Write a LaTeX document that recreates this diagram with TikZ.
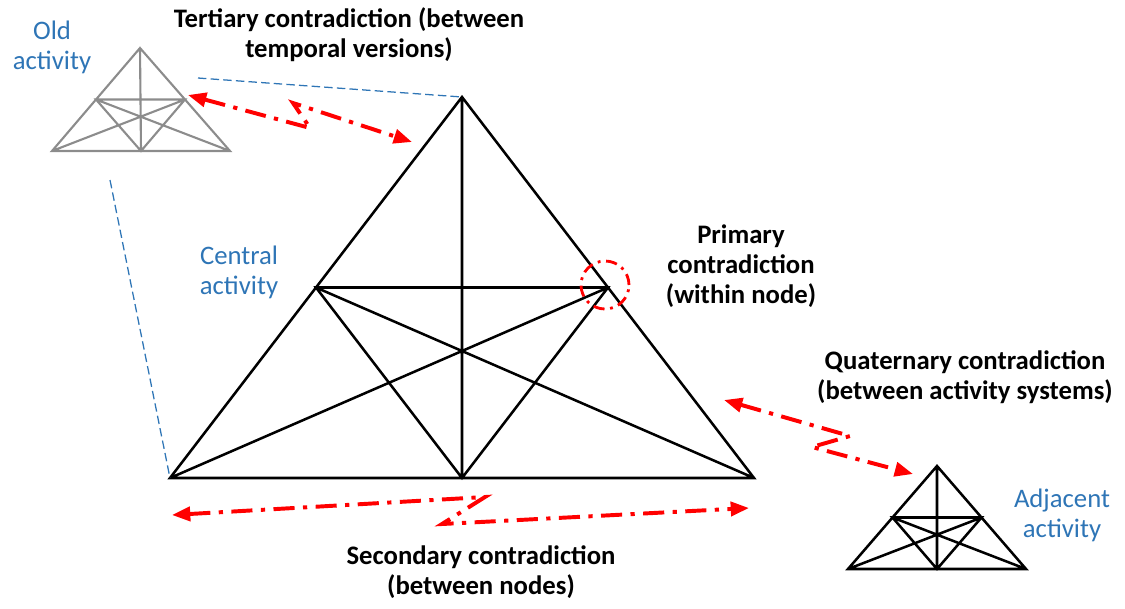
\documentclass[tikz,border=0pt]{standalone}
\usepackage{fontspec}
\setmainfont{Carlito}
\usetikzlibrary{arrows.meta,calc,positioning}
\definecolor{actBlue}{HTML}{2E75B6}
\definecolor{actGrey}{HTML}{8C8C8C}
\newcommand{\labelfont}{\fontsize{19}{21.5}\selectfont}
\tikzset{
    % activity system triangles
    actline/.style={line width=1.8pt,black},
    oldline/.style={line width=1.5pt,actGrey},
    % labels
    actlabel/.style={align=center,text=actBlue,font=\labelfont},
    conlabel/.style={align=center,font=\labelfont\bfseries},
    % contradiction flows
    conflict/.style={{Triangle[length=13pt,width=10pt]}-{Triangle[length=13pt,width=10pt]},line width=2.8pt,red,dash pattern=on 15pt off 6pt on 3pt off 6pt},
    primring/.style={circle,draw=red,line width=2pt,minimum size=1.2cm,dash pattern=on 8pt off 4pt on 2pt off 4pt},
    history/.style={actBlue,line width=0.9pt,dash pattern=on 6pt off 3pt}
}
% activity triangle: prefix, apex, left corner, right corner, style
\newcommand{\actsys}[5]{%
  \coordinate (#1-t) at (#2);
  \coordinate (#1-l) at (#3);
  \coordinate (#1-r) at (#4);
  \coordinate (#1-a) at ($(#1-t)!0.5!(#1-l)$);
  \coordinate (#1-b) at ($(#1-t)!0.5!(#1-r)$);
  \coordinate (#1-c) at ($(#1-l)!0.5!(#1-r)$);
  \draw[#5] (#1-t) -- (#1-l) -- (#1-r) -- cycle
    (#1-a) -- (#1-b) -- (#1-c) -- cycle
    (#1-t) -- (#1-c) (#1-l) -- (#1-b) (#1-r) -- (#1-a);
}
\begin{document}
\begin{tikzpicture}[x=0.025cm,y=-0.025cm]
  \useasboundingbox (0,0) rectangle (1125,608);

  % Activity systems
  \actsys{cen}{462,97}{170,478}{754,478}{actline}
  \actsys{old}{140,48}{52,151}{230,151}{oldline}
  \actsys{adj}{937,466}{848,569}{1026,569}{actline}

  % Labels
  \node[actlabel] (oldtxt) at (52,47) {Old\\activity};
  \node[actlabel] (centxt) at (239,272) {Central\\activity};
  \node[actlabel] (adjtxt) at (1062,515) {Adjacent\\activity};
  \node[conlabel] (tertxt) at (349,35) {Tertiary contradiction (between\\temporal versions)};
  \node[conlabel] (pritxt) at (741,266) {Primary\\contradiction\\(within node)};
  \node[conlabel] (quatxt) at (965,377) {Quaternary contradiction\\(between activity systems)};
  \node[conlabel] (sectxt) at (481,572) {Secondary contradiction\\(between nodes)};

  % Links from old version
  \coordinate (oldup) at (198,78);
  \coordinate (olddown) at (110,180);
  \draw[history] (oldup) -- (cen-t);
  \draw[history] (olddown) -- (cen-l);

  % Primary contradiction
  \node[primring] (ring) at (605,285) {};

  % Tertiary contradiction
  \coordinate (ter1) at (188,95);
  \coordinate (ter2) at (310,128);
  \coordinate (ter3) at (293,103);
  \coordinate (ter4) at (412,142);
  \draw[conflict] (ter1) -- (ter2) -- (ter3) -- (ter4);

  % Secondary contradiction
  \coordinate (sec1) at (172,515);
  \coordinate (sec2) at (485,497);
  \coordinate (sec3) at (442,524);
  \coordinate (sec4) at (749,508);
  \draw[conflict] (sec1) -- (sec2) -- (sec3) -- (sec4);

  % Quaternary contradiction
  \coordinate (qua1) at (724,400);
  \coordinate (qua2) at (850,436);
  \coordinate (qua3) at (812,447);
  \coordinate (qua4) at (913,474);
  \draw[conflict] (qua1) -- (qua2) -- (qua3) -- (qua4);
\end{tikzpicture}
\end{document}
